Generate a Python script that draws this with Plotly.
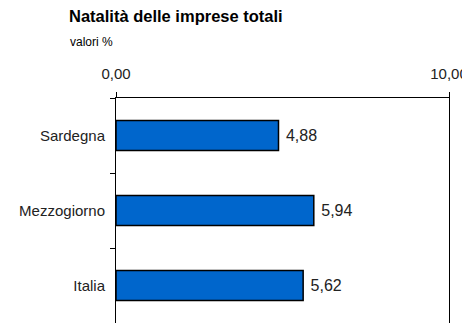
import plotly.graph_objects as go

categories = ["Sardegna", "Mezzogiorno", "Italia"]
values = [4.88, 5.94, 5.62]
x_tick_vals = [0, 10]
title_text = "Natalità delle imprese totali"
subtitle_text = "valori %"

FONT = "Arial, Liberation Sans, sans-serif"

# the page body has an 8px default margin, so the figure is sized/placed to compensate
OFF = 8
W, H = 470 - OFF, 324 - OFF
L, R, T, B = 116 - OFF, 21, 98 - OFF, 1
PW, PH = W - L - R, H - T - B


def px_x(px):
    return (px - OFF - L) / PW


def px_y(py):
    return (H - B - (py - OFF)) / PH


fig = go.Figure()
fig.add_trace(go.Bar(
    y=categories,
    x=values,
    orientation="h",
    width=0.4,
    marker=dict(color="#0066CC", line=dict(color="#000000", width=1.5)),
    texttemplate=" %{x:.2f}",
    textposition="outside",
    textfont=dict(family=FONT, size=16, color="#222222"),
    cliponaxis=False,
))

fig.update_layout(
    width=W, height=H,
    margin=dict(l=L, r=R, t=T, b=B, autoexpand=False),
    paper_bgcolor="white", plot_bgcolor="white",
    separators=",.",
    showlegend=False,
    font=dict(family=FONT, size=15, color="#222222"),
    xaxis=dict(
        side="top", range=[0, 10], tickvals=x_tick_vals, tickformat=".2f",
        showgrid=False, zeroline=False, automargin=False,
        showline=True, linecolor="black", linewidth=1,
        ticks="outside", ticklen=5, tickcolor="black", tickwidth=1,
        tickfont=dict(family=FONT, size=15, color="#222222"),
        ticklabelstandoff=7,
    ),
    yaxis=dict(
        categoryorder="array", categoryarray=categories,
        autorange="reversed", range=[2.5, -0.5], automargin=False,
        showgrid=False, zeroline=False,
        showline=True, linecolor="black", linewidth=1, mirror=True,
        ticks="outside", ticklen=5, tickcolor="black", tickwidth=1,
        tickson="boundaries",
        tickfont=dict(family=FONT, size=15, color="#222222"),
        ticklabelstandoff=7,
    ),
    annotations=[
        dict(text="<b>" + title_text + "</b>", xref="paper", yref="paper",
             x=px_x(68), y=px_y(6), xanchor="left", yanchor="top",
             showarrow=False, borderpad=0,
             font=dict(family=FONT, size=16.5, color="black")),
        dict(text=subtitle_text, xref="paper", yref="paper",
             x=px_x(69), y=px_y(34), xanchor="left", yanchor="top",
             showarrow=False, borderpad=0,
             font=dict(family=FONT, size=12, color="black")),
    ],
)

fig.write_html("out.html")
